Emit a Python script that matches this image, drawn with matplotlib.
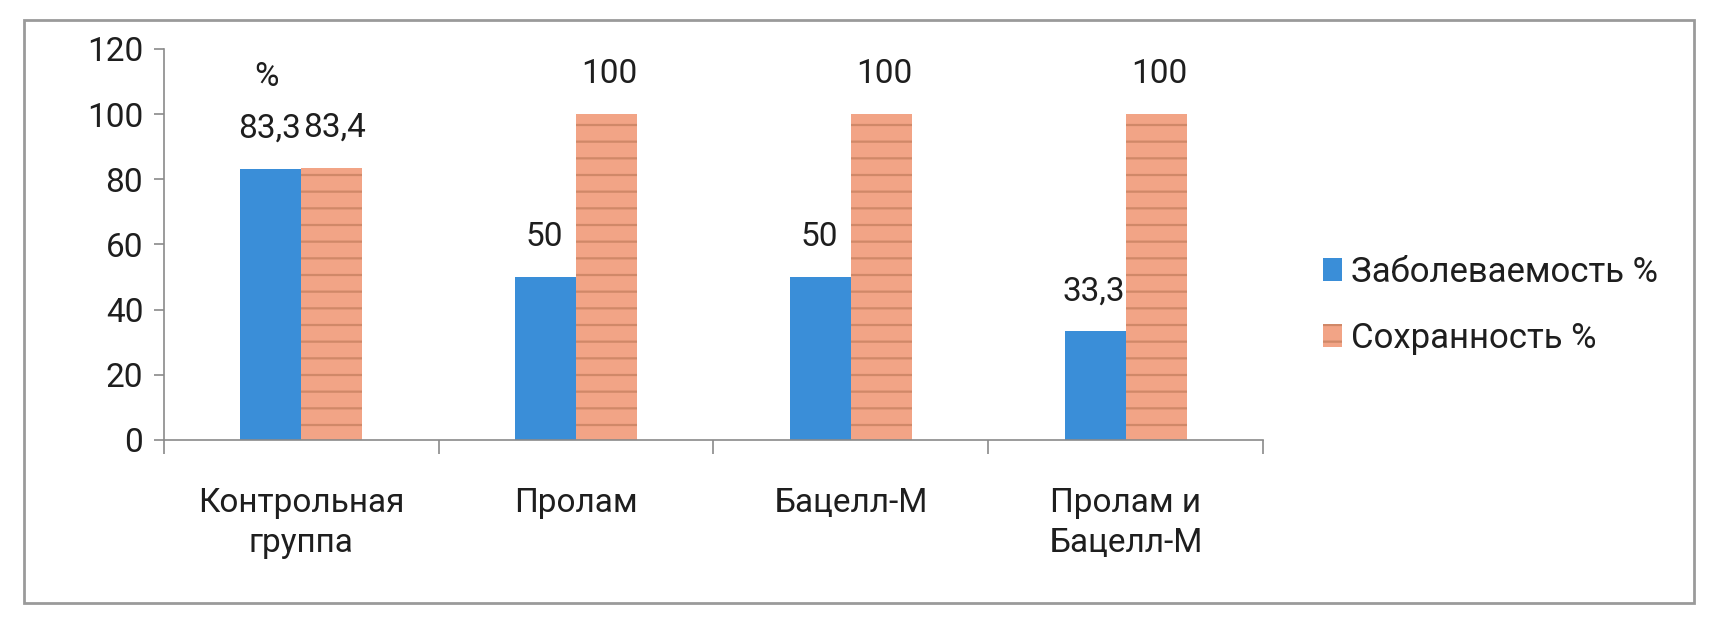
import matplotlib
matplotlib.use("Agg")
import matplotlib.pyplot as plt
from matplotlib.patches import Rectangle
import numpy as np

plt.rcParams['font.family'] = ['Roboto', 'DejaVu Sans']
plt.rcParams['hatch.color'] = "#D08868"
plt.rcParams['hatch.linewidth'] = 1.6

categories = ["Контрольная\nгруппа", "Пролам", "Бацелл-М", "Пролам и\nБацелл-М"]
morbidity = [83.3, 50, 50, 33.3]
survival = [83.4, 100, 100, 100]
morbidity_labels = ["83,3", "50", "50", "33,3"]
survival_labels = ["83,4", "100", "100", "100"]
series_names = ["Заболеваемость %", "Сохранность %"]
yticks = [0, 20, 40, 60, 80, 100, 120]

BLUE = "#3A8ED8"
SALMON = "#F2A486"
TXT = "#1e1e1e"
AX = "#8a8a8a"
FS = 24
FW = "normal"

fig = plt.figure(figsize=(17.36, 6.24), dpi=100)
fig.patch.set_facecolor("white")
# outer chart frame
fig.add_artist(Rectangle((0.014, 0.034), 0.962, 0.934, transform=fig.transFigure,
                         fill=False, edgecolor="#9a9a9a", linewidth=2))

ax = fig.add_axes([0.0945, 0.295, 0.633, 0.6265])
x = np.arange(len(categories))
w = 0.222
b1 = ax.bar(x - w / 2, morbidity, w, color=BLUE, label=series_names[0], zorder=2)
b2 = ax.bar(x + w / 2, survival, w, color=SALMON, label=series_names[1], zorder=2,
            hatch="-", edgecolor="#D08868", linewidth=0)

ax.set_xlim(-0.5, len(categories) - 0.5)
ax.set_ylim(0, 120)
ax.set_yticks(yticks)
ax.set_yticklabels([str(t) for t in yticks], fontsize=FS, color=TXT, fontweight=FW)
ax.tick_params(axis="y", length=7, width=1.2, color=AX, pad=8)

ax.set_xticks(np.arange(len(categories) + 1) - 0.5)
ax.set_xticklabels([])
ax.tick_params(axis="x", length=10, width=1.2, color=AX)
for i, c in enumerate(categories):
    ax.annotate(c, xy=(x[i], 0), xycoords="data", xytext=(0, -34),
                textcoords="offset points", ha="center", va="top",
                fontsize=FS, color=TXT, fontweight=FW, linespacing=1.32)

for s in ["top", "right"]:
    ax.spines[s].set_visible(False)
for s in ["left", "bottom"]:
    ax.spines[s].set_color(AX)
    ax.spines[s].set_linewidth(1.2)

for rect, lab in zip(b1, morbidity_labels):
    ax.annotate(lab, xy=(rect.get_x() + rect.get_width() / 2, rect.get_height()),
                xytext=(-1, 29), textcoords="offset points", ha="center", va="center",
                fontsize=FS, color=TXT, fontweight=FW)
for rect, lab in zip(b2, survival_labels):
    ax.annotate(lab, xy=(rect.get_x() + rect.get_width() / 2, rect.get_height()),
                xytext=(2, 29), textcoords="offset points", ha="center", va="center",
                fontsize=FS, color=TXT, fontweight=FW)
# "%" above the first label
r0 = b1[0]
ax.annotate("%", xy=(r0.get_x() + r0.get_width() / 2, r0.get_height()),
            xytext=(-3, 66), textcoords="offset points", ha="center", va="center",
            fontsize=FS, color=TXT, fontweight=FW)

fig.legend(handles=[b1, b2], labels=series_names, loc="center left",
           bbox_to_anchor=(0.762, 0.511), frameon=False,
           prop={"size": FS + 1, "weight": FW},
           handlelength=0.55, handleheight=0.65, handletextpad=0.25,
           labelspacing=0.95, borderpad=0, borderaxespad=0, labelcolor=TXT)

fig.savefig("out.png", dpi=100, facecolor="white")
